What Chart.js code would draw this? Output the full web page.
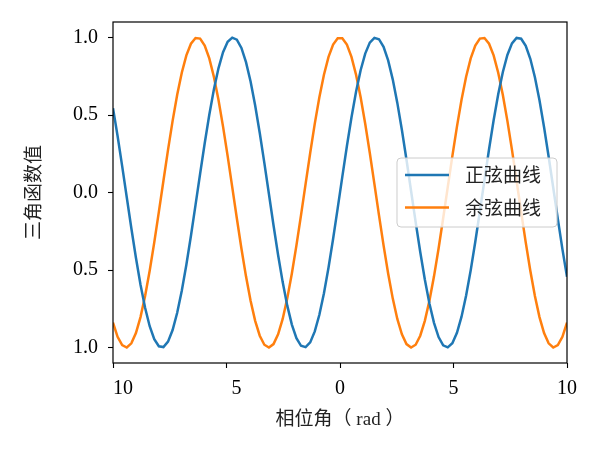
<!DOCTYPE html>
<html>
<head>
<meta charset="utf-8">
<script src="https://cdn.jsdelivr.net/npm/chart.js@4.4.0/dist/chart.umd.min.js"></script>
<style>
  html, body { margin: 0; padding: 0; background: #fff; }
  #wrap { width: 600px; height: 450px; }
</style>
</head>
<body>
<div id="wrap"><canvas id="chart" width="600" height="450"></canvas></div>
<script>
// phase angle samples (rad)
const phase = [
  -10.000, -9.798, -9.596, -9.394, -9.192, -8.990, -8.788, -8.586, -8.384, -8.182,
  -7.980, -7.778, -7.576, -7.374, -7.172, -6.970, -6.768, -6.566, -6.364, -6.162,
  -5.960, -5.758, -5.556, -5.354, -5.152, -4.949, -4.747, -4.545, -4.343, -4.141,
  -3.939, -3.737, -3.535, -3.333, -3.131, -2.929, -2.727, -2.525, -2.323, -2.121,
  -1.919, -1.717, -1.515, -1.313, -1.111, -0.909, -0.707, -0.505, -0.303, -0.101,
  0.101, 0.303, 0.505, 0.707, 0.909, 1.111, 1.313, 1.515, 1.717, 1.919,
  2.121, 2.323, 2.525, 2.727, 2.929, 3.131, 3.333, 3.535, 3.737, 3.939,
  4.141, 4.343, 4.545, 4.747, 4.949, 5.152, 5.354, 5.556, 5.758, 5.960,
  6.162, 6.364, 6.566, 6.768, 6.970, 7.172, 7.374, 7.576, 7.778, 7.980,
  8.182, 8.384, 8.586, 8.788, 8.990, 9.192, 9.394, 9.596, 9.798, 10.000
];

const sineValues = [
  0.544, 0.365, 0.170, -0.031, -0.231, -0.421, -0.595, -0.744, -0.863, -0.947,
  -0.992, -0.997, -0.962, -0.887, -0.776, -0.634, -0.466, -0.279, -0.080, 0.121,
  0.318, 0.502, 0.665, 0.801, 0.905, 0.972, 0.999, 0.986, 0.933, 0.841,
  0.716, 0.561, 0.384, 0.191, -0.010, -0.211, -0.403, -0.578, -0.730, -0.852,
  -0.940, -0.989, -0.998, -0.967, -0.896, -0.789, -0.650, -0.484, -0.298, -0.101,
  0.101, 0.298, 0.484, 0.650, 0.789, 0.896, 0.967, 0.998, 0.989, 0.940,
  0.852, 0.730, 0.578, 0.403, 0.211, 0.010, -0.191, -0.384, -0.561, -0.716,
  -0.841, -0.933, -0.986, -0.999, -0.972, -0.905, -0.801, -0.665, -0.502, -0.318,
  -0.121, 0.080, 0.279, 0.466, 0.634, 0.776, 0.887, 0.962, 0.997, 0.992,
  0.947, 0.863, 0.744, 0.595, 0.421, 0.231, 0.031, -0.170, -0.365, -0.544
];

const cosineValues = [
  -0.839, -0.931, -0.985, -1.000, -0.973, -0.907, -0.804, -0.668, -0.505, -0.322,
  -0.125, 0.076, 0.275, 0.462, 0.631, 0.773, 0.885, 0.960, 0.997, 0.993,
  0.948, 0.865, 0.747, 0.598, 0.425, 0.235, 0.035, -0.166, -0.361, -0.541,
  -0.698, -0.828, -0.924, -0.982, -1.000, -0.978, -0.915, -0.816, -0.683, -0.523,
  -0.341, -0.146, 0.056, 0.255, 0.444, 0.615, 0.760, 0.875, 0.954, 0.995,
  0.995, 0.954, 0.875, 0.760, 0.615, 0.444, 0.255, 0.056, -0.146, -0.341,
  -0.523, -0.683, -0.816, -0.915, -0.978, -1.000, -0.982, -0.924, -0.828, -0.698,
  -0.541, -0.361, -0.166, 0.035, 0.235, 0.425, 0.598, 0.747, 0.865, 0.948,
  0.993, 0.997, 0.960, 0.885, 0.773, 0.631, 0.462, 0.275, 0.076, -0.125,
  -0.322, -0.505, -0.668, -0.804, -0.907, -0.973, -1.000, -0.985, -0.931, -0.839
];

const seriesNames = ['正弦曲线', '余弦曲线'];
const seriesColors = ['#1f77b4', '#ff7f0e'];

// the minus sign is missing from the original labels, only its gap remains
const xTickValues = [-10, -5, 0, 5, 10];
const xTickLabels = ['10', '5', '0', '5', '10'];
const yTickValues = [-1, -0.5, 0, 0.5, 1];
const yTickLabels = ['1.0', '0.5', '0.0', '0.5', '1.0'];

const xTitle = '相位角（ rad ）';
const yTitle = '三角函数值';

const serif = "'Liberation Serif', 'DejaVu Serif', serif";
const cjk = "'Noto Sans CJK SC', 'Noto Sans', sans-serif";
const mixed = "'Liberation Serif', 'Noto Sans CJK SC', serif";

const toPoints = (ys) => phase.map((x, i) => ({ x: x, y: ys[i] }));

// black box round the plot area, like matplotlib spines
const frame = {
  id: 'frame',
  afterDatasetsDraw(chart) {
    const { ctx, chartArea: a } = chart;
    ctx.save();
    ctx.strokeStyle = '#000';
    ctx.lineWidth = 1.2;
    ctx.strokeRect(a.left, a.top, a.right - a.left, a.bottom - a.top);
    ctx.restore();
  }
};

// legend box sitting inside the plot, centre right
const boxLegend = {
  id: 'boxLegend',
  afterDraw(chart) {
    const { ctx, chartArea: a } = chart;
    const sets = chart.data.datasets;
    ctx.save();
    ctx.font = '19px ' + cjk;
    const textW = Math.max(...sets.map(d => ctx.measureText(d.label).width));
    const rowH = 32.5;
    const w = 8 + 44 + 16 + textW + 16;
    const h = rowH * sets.length + 4;
    const x = a.right - 10 - w;
    const y = (a.top + a.bottom) / 2 - h / 2;

    ctx.beginPath();
    ctx.roundRect(x, y, w, h, 4);
    ctx.fillStyle = 'rgba(255,255,255,0.8)';
    ctx.fill();
    ctx.strokeStyle = '#cccccc';
    ctx.lineWidth = 1;
    ctx.stroke();

    sets.forEach((d, i) => {
      const cy = y + 17 + i * rowH;
      ctx.beginPath();
      ctx.moveTo(x + 8, cy);
      ctx.lineTo(x + 52, cy);
      ctx.strokeStyle = d.borderColor;
      ctx.lineWidth = 2.5;
      ctx.stroke();
      ctx.fillStyle = '#222';
      ctx.textBaseline = 'middle';
      ctx.textAlign = 'left';
      ctx.fillText(d.label, x + 68, cy);
    });
    ctx.restore();
  }
};

new Chart(document.getElementById('chart'), {
  type: 'line',
  data: {
    datasets: [
      {
        label: seriesNames[0],
        data: toPoints(sineValues),
        borderColor: seriesColors[0],
        borderWidth: 2.5,
        pointRadius: 0,
        fill: false,
        tension: 0
      },
      {
        label: seriesNames[1],
        data: toPoints(cosineValues),
        borderColor: seriesColors[1],
        borderWidth: 2.5,
        pointRadius: 0,
        fill: false,
        tension: 0
      }
    ]
  },
  options: {
    responsive: false,
    animation: false,
    devicePixelRatio: 1,
    layout: { padding: { top: 22, right: 33, left: 0, bottom: 0 } },
    plugins: {
      legend: { display: false },
      tooltip: { enabled: false }
    },
    scales: {
      x: {
        type: 'linear',
        min: -10,
        max: 10,
        afterBuildTicks: (s) => { s.ticks = xTickValues.map(v => ({ value: v })); },
        afterFit: (s) => { s.height = 87; },
        grid: { drawOnChartArea: false, drawTicks: true, tickLength: 5, tickWidth: 1.1, tickColor: '#000' },
        border: { display: false },
        ticks: {
          autoSkip: false,
          maxRotation: 0,
          padding: 9,
          color: '#000',
          font: { family: serif, size: 20 },
          // four spaces stand in for the blank minus glyph
          callback: (v) => (v < 0 ? '    ' : '') + xTickLabels[xTickValues.indexOf(v)]
        },
        title: {
          display: true,
          text: xTitle,
          color: '#222',
          font: { family: mixed, size: 19, lineHeight: 1.2 },
          padding: { top: 0, bottom: 18.6 }
        }
      },
      y: {
        type: 'linear',
        min: -1.1,
        max: 1.1,
        afterBuildTicks: (s) => { s.ticks = yTickValues.map(v => ({ value: v })); },
        afterFit: (s) => { s.width = 113; },
        grid: { drawOnChartArea: false, drawTicks: true, tickLength: 5, tickWidth: 1.1, tickColor: '#000' },
        border: { display: false },
        ticks: {
          autoSkip: false,
          padding: 10,
          color: '#000',
          font: { family: serif, size: 20 },
          callback: (v) => yTickLabels[yTickValues.indexOf(v)]
        },
        title: {
          display: true,
          text: yTitle,
          color: '#222',
          font: { family: cjk, size: 19, lineHeight: 1.2 },
          padding: { top: 21.6, bottom: 0 }
        }
      }
    }
  },
  plugins: [frame, boxLegend]
});
</script>
</body>
</html>
